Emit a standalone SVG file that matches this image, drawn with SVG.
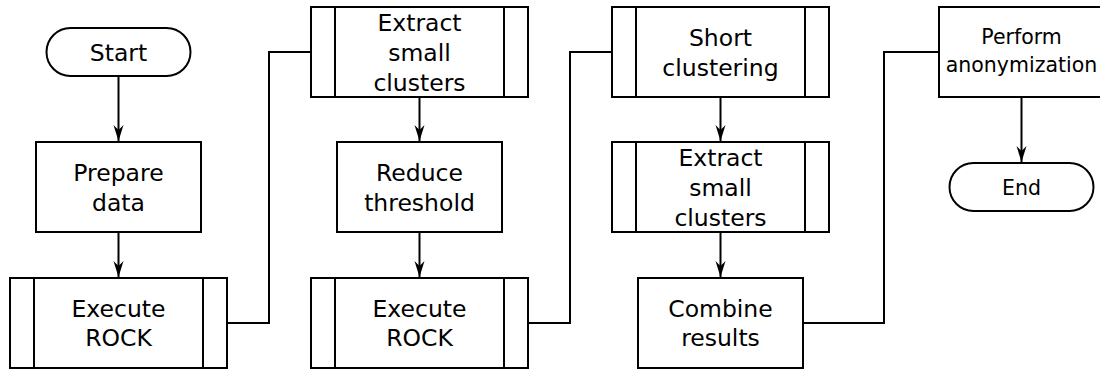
<svg xmlns="http://www.w3.org/2000/svg" width="1100" height="369" viewBox="0 0 1100 369">
<style>
.s{fill:#fff;stroke:#000;stroke-width:2}
.l{fill:none;stroke:#000;stroke-width:2}
text{font-family:"DejaVu Sans",Verdana,sans-serif;font-size:23.5px;fill:#000;text-anchor:middle}
text.sm{font-size:20.5px}
</style>
<defs>
<marker id="arr" markerUnits="userSpaceOnUse" markerWidth="18" markerHeight="12" refX="16" refY="5" orient="auto">
<path d="M0,0 L16,5 L0,10 L5,5 z" fill="#000"/>
</marker>
</defs>
<rect width="1100" height="369" fill="#fff"/>
<g id="connectors">
<path class="l" d="M118.5,76 V141" marker-end="url(#arr)"/>
<path class="l" d="M118.5,232 V277" marker-end="url(#arr)"/>
<path class="l" d="M227,323 H269 V52 H311"/>
<path class="l" d="M419.5,97 V141" marker-end="url(#arr)"/>
<path class="l" d="M419.5,232 V277" marker-end="url(#arr)"/>
<path class="l" d="M528,323 H570 V52 H612"/>
<path class="l" d="M720.5,97 V141" marker-end="url(#arr)"/>
<path class="l" d="M720.5,232 V277" marker-end="url(#arr)"/>
<path class="l" d="M803,323 H884 V52 H939"/>
<path class="l" d="M1021.5,97 V162" marker-end="url(#arr)"/>
</g>
<g id="start">
<rect class="s" x="46.5" y="28" width="144" height="48" rx="24"/>
<text x="118.5" y="60.5">Start</text>
</g>
<g id="prepare">
<rect class="s" x="36" y="142" width="165" height="90"/>
<text x="118.5" y="181">Prepare</text>
<text x="118.5" y="211">data</text>
</g>
<g id="execute1">
<rect class="s" x="10" y="278" width="217" height="90"/>
<path class="l" d="M34,278 V368 M203,278 V368"/>
<text x="118.5" y="316.5">Execute</text>
<text x="118.5" y="346">ROCK</text>
</g>
<g id="extract1">
<rect class="s" x="311" y="7" width="217" height="90"/>
<path class="l" d="M335,7 V97 M504,7 V97"/>
<text x="419.5" y="30.5">Extract</text>
<text x="419.5" y="60.5">small</text>
<text x="419.5" y="90.5">clusters</text>
</g>
<g id="reduce">
<rect class="s" x="337" y="142" width="165" height="90"/>
<text x="419.5" y="181">Reduce</text>
<text x="419.5" y="211">threshold</text>
</g>
<g id="execute2">
<rect class="s" x="311" y="278" width="217" height="90"/>
<path class="l" d="M335,278 V368 M504,278 V368"/>
<text x="419.5" y="316.5">Execute</text>
<text x="419.5" y="346">ROCK</text>
</g>
<g id="short">
<rect class="s" x="612" y="7" width="217" height="90"/>
<path class="l" d="M636,7 V97 M805,7 V97"/>
<text x="720.5" y="46">Short</text>
<text x="720.5" y="76">clustering</text>
</g>
<g id="extract2">
<rect class="s" x="612" y="142" width="217" height="90"/>
<path class="l" d="M636,142 V232 M805,142 V232"/>
<text x="720.5" y="165.5">Extract</text>
<text x="720.5" y="195.5">small</text>
<text x="720.5" y="225.5">clusters</text>
</g>
<g id="combine">
<rect class="s" x="638" y="278" width="165" height="90"/>
<text x="720.5" y="316.5">Combine</text>
<text x="720.5" y="346">results</text>
</g>
<g id="perform">
<rect class="s" x="939" y="7" width="165" height="90"/>
<text class="sm" x="1021.5" y="43.5">Perform</text>
<text class="sm" x="1021.5" y="71.5">anonymization</text>
</g>
<g id="end">
<rect class="s" x="949.5" y="163" width="144" height="48" rx="24"/>
<text class="sm" x="1021.5" y="194.5">End</text>
</g>
</svg>
